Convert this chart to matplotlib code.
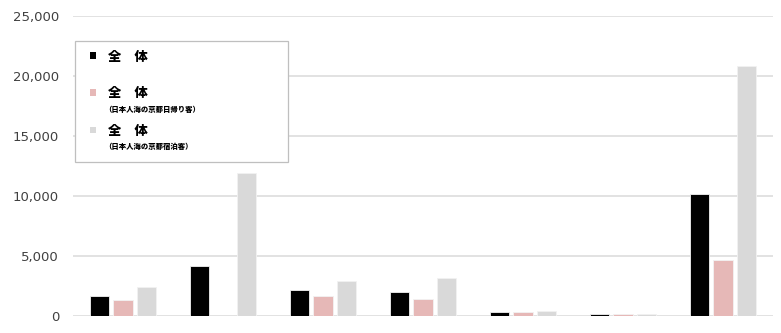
import matplotlib.pyplot as plt
import matplotlib.patches as pt
import numpy as np

plt.rcParams['font.family'] = ['Noto Sans CJK JP', 'DejaVu Sans']

# values (7 groups, no category labels shown)
total = [1650, 4150, 2130, 1960, 330, 190, 10150]
day_trip = [1300, 0, 1650, 1430, 300, 170, 4630]
overnight = [2430, 11930, 2900, 3130, 410, 150, 20860]

series_names = ['全　体', '全　体', '全　体']
series_notes = ['', '（日本人海の京都日帰り客）', '（日本人海の京都宿泊客）']
colors = ['#000000', '#E6B8B7', '#D9D9D9']
yticks = [0, 5000, 10000, 15000, 20000, 25000]

W, H = 781, 333
fig = plt.figure(figsize=(W / 100, H / 100), dpi=100)
ax = fig.add_axes([73 / W, 17 / H, 700 / W, 300 / H])

x = np.arange(len(total))
bw = 0.195
off = 0.235
for i, vals in enumerate([total, day_trip, overnight]):
    ax.bar(x + (i - 1) * off, vals, width=bw, color=colors[i],
           edgecolor='#F2F2F2', linewidth=0.6, zorder=2)

ax.set_xlim(-0.5, len(total) - 0.5)
ax.set_ylim(0, 25000)
ax.set_yticks(yticks)
ax.set_yticklabels([f'{v:,}' for v in yticks], family='DejaVu Sans',
                   fontsize=9.5, color='#404040')
ax.set_xticks([])
ax.tick_params(axis='y', length=0, pad=10)
ax.grid(axis='y', color='#DDDDDD', linewidth=1.2, zorder=0)
for s in ax.spines.values():
    s.set_visible(False)


def fx(px):
    return px / W


def fy(py):
    return 1 - py / H


# legend drawn by hand (two-size labels)
box = pt.Rectangle((fx(75), fy(162)), fx(288) - fx(75), fy(41) - fy(162),
                   transform=fig.transFigure, facecolor='white',
                   edgecolor='#BFBFBF', linewidth=0.9, zorder=5)
fig.patches.append(box)

rows = [55.5, 92.5, 129.5]
for i, yy in enumerate(rows):
    sq = pt.Rectangle((fx(89.5), fy(yy + 3)), 6 / W, 6 / H,
                      transform=fig.transFigure, facecolor=colors[i],
                      edgecolor='none', zorder=6)
    fig.patches.append(sq)
    fig.text(fx(108), fy(yy + 1), series_names[i], fontsize=9.5,
             fontweight='heavy', va='center', ha='left', zorder=7)
    if series_notes[i]:
        fig.text(fx(104), fy(yy + 17), series_notes[i], fontsize=5.3,
                 fontweight='heavy', va='center', ha='left', zorder=7)

fig.savefig('out.png', dpi=100)
